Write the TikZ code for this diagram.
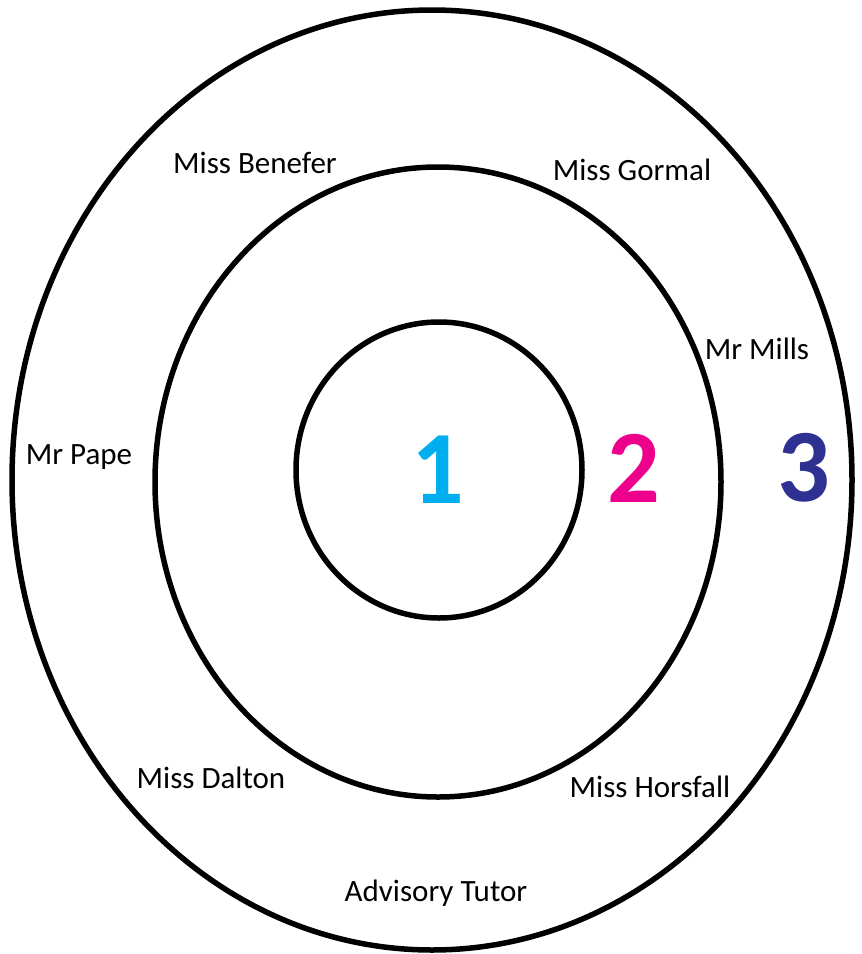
\documentclass[tikz,border=0pt]{standalone}
\usepackage{fontspec}
\setmainfont{Carlito}
\usepackage{tikz}
\definecolor{RingOne}{RGB}{0, 174, 239}
\definecolor{RingTwo}{RGB}{236, 0, 140}
\definecolor{RingThree}{RGB}{46, 49, 146}
\tikzset{
  ring/.style={line width=5.5pt, black},
  staff/.style={font=\fontsize{31}{34}\selectfont},
  ringnum/.style={font=\fontsize{104}{112}\selectfont\bfseries}
}

\begin{document}
\begin{tikzpicture}[x=1pt, y=-1pt]
    \useasboundingbox (0,0) rectangle (862,954);

    % Rings
    \draw[ring] (432,480) ellipse [x radius=420, y radius=470];
    \draw[ring] (438,482) ellipse [x radius=283, y radius=315];
    \draw[ring] (439,470) ellipse [x radius=143, y radius=148];

    % Ring numbers
    \node[ringnum, RingOne] (one) at (438,470) {1};
    \node[ringnum, RingTwo] (two) at (634,468) {2};
    \node[ringnum, RingThree] (three) at (804,468) {3};

    % Staff names
    \node[staff] (benefer) at (255,163) {Miss Benefer};
    \node[staff] (gormal) at (632,170) {Miss Gormal};
    \node[staff] (mills) at (757,349) {Mr Mills};
    \node[staff] (pape) at (79,457) {Mr Pape};
    \node[staff] (dalton) at (211,778) {Miss Dalton};
    \node[staff] (horsfall) at (650,787) {Miss Horsfall};
    \node[staff] (tutor) at (436,893) {Advisory Tutor};
\end{tikzpicture}
\end{document}
